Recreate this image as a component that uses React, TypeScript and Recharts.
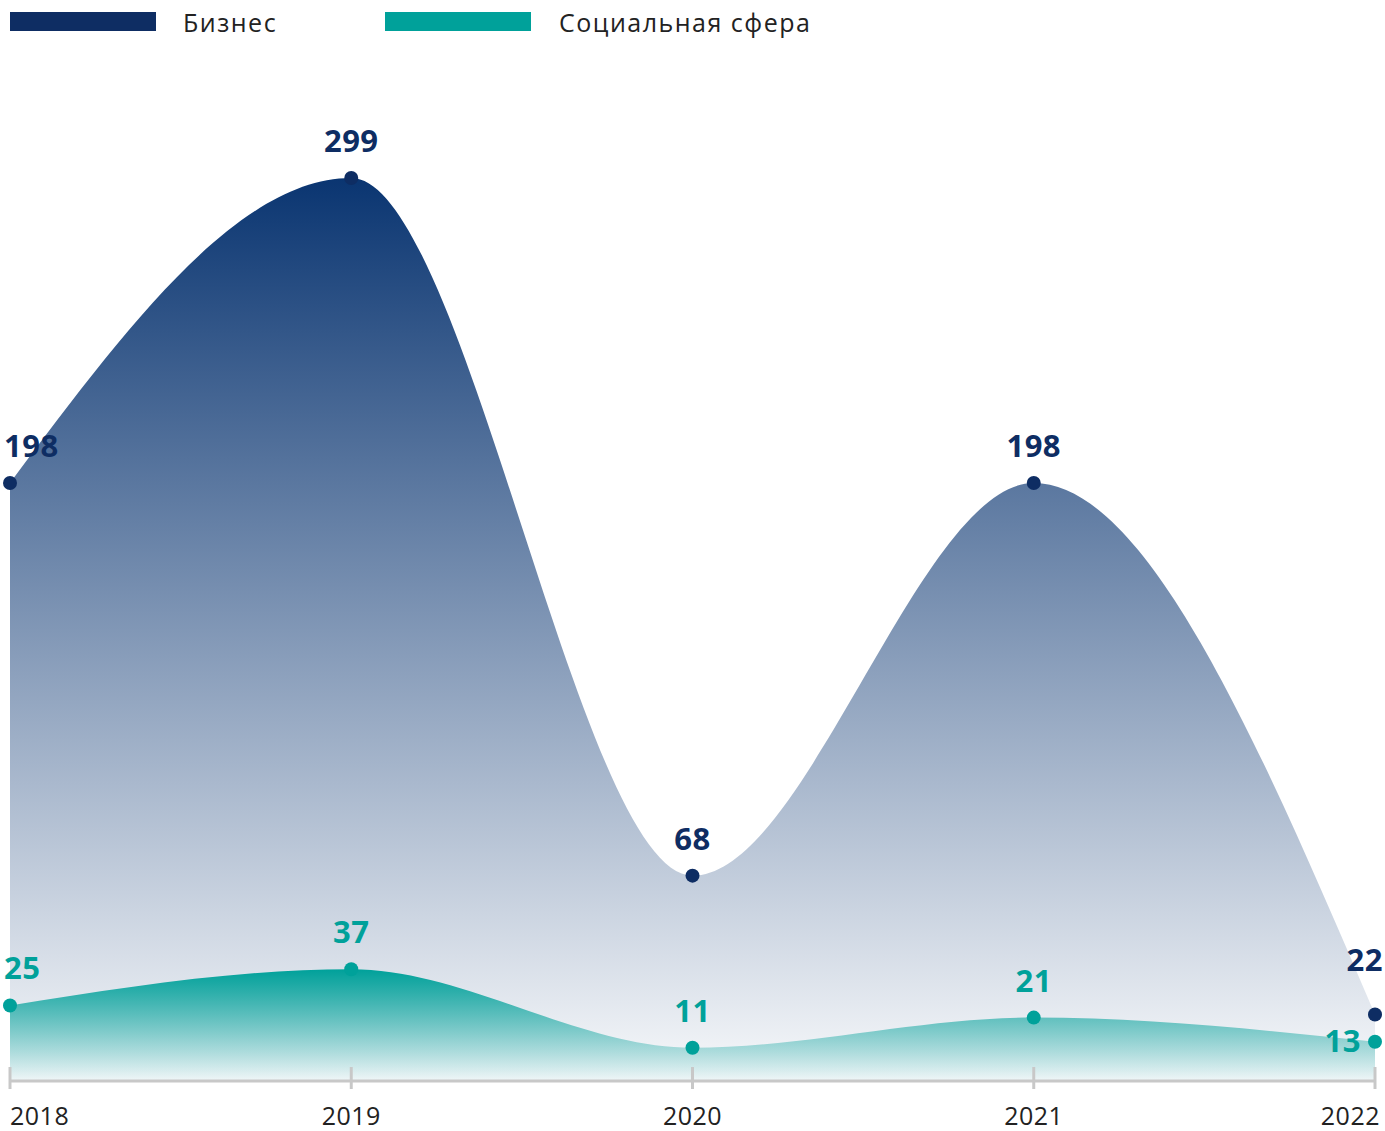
import { AreaChart, Area, XAxis, YAxis } from "recharts";

const years = ["2018", "2019", "2020", "2021", "2022"];
const business = [198, 299, 68, 198, 22];
const social = [25, 37, 11, 21, 13];

const NAVY = "#0e2d63";
const TEAL = "#00a19a";

const data = years.map((year, i) => ({
  year,
  business: business[i],
  social: social[i],
}));

const FONT = "'Open Sans', sans-serif";

function YearTick(props: any) {
  const { x, y, payload, index } = props;
  const last = index === years.length - 1;
  const anchor = index === 0 ? "start" : last ? "end" : "middle";
  return (
    <g>
      <line x1={x} y1={y - 22} x2={x} y2={y} stroke="#c8c8c8" strokeWidth={3} />
      <text
        x={last ? x + 5 : x}
        y={y + 36}
        textAnchor={anchor}
        fontFamily={FONT}
        fontSize={25}
        letterSpacing={0.5}
        fill="#222"
      >
        {payload.value}
      </text>
    </g>
  );
}

// lastSide: "up" puts the 2022 label above its dot (lifted), "left" beside it
function makeLabel(color: string, lastSide: "up" | "left") {
  return (props: any) => {
    const { x, y, value, index } = props;
    const last = index === years.length - 1;
    let tx = x;
    let ty = y - 26;
    let anchor = "middle";
    if (index === 0) {
      tx = x - 6;
      anchor = "start";
    } else if (last && lastSide === "up") {
      tx = x + 8;
      ty = y - 44;
      anchor = "end";
    } else if (last) {
      tx = x - 14;
      ty = y + 10;
      anchor = "end";
    }
    return (
      <text
        x={tx}
        y={ty}
        textAnchor={anchor}
        fontFamily={FONT}
        fontWeight={700}
        fontSize={31}
        letterSpacing={0.5}
        fill={color}
      >
        {value}
      </text>
    );
  };
}

function TopLegend() {
  const items = [
    { name: "Бизнес", color: NAVY, x: 10, tx: 183 },
    { name: "Социальная сфера", color: TEAL, x: 385, tx: 559 },
  ];
  return (
    <svg
      width={900}
      height={50}
      style={{ position: "absolute", left: 0, top: 0 }}
    >
      {items.map((it) => (
        <g key={it.name}>
          <rect x={it.x} y={12} width={146} height={19} fill={it.color} />
          <text
            x={it.tx}
            y={32}
            fontFamily={FONT}
            fontSize={25}
            letterSpacing={1.5}
            fill="#222"
          >
            {it.name}
          </text>
        </g>
      ))}
    </svg>
  );
}

export default function App() {
  return (
    <div style={{ position: "absolute", left: 0, top: 0, width: 1385, height: 1131 }}>
      <AreaChart
        width={1385}
        height={1131}
        data={data}
        margin={{ top: 178, right: 10, bottom: 0, left: 10 }}
      >
        <defs>
          <linearGradient id="gBiz" x1="0" y1="0" x2="0" y2="1">
            <stop offset="0%" stopColor="#0a3571" stopOpacity={1} />
            <stop offset="100%" stopColor="#0a3571" stopOpacity={0.03} />
          </linearGradient>
          <linearGradient id="gSoc" x1="0" y1="0" x2="0" y2="1">
            <stop offset="0%" stopColor="#00a19a" stopOpacity={1} />
            <stop offset="100%" stopColor="#00a19a" stopOpacity={0.03} />
          </linearGradient>
        </defs>
        <XAxis
          dataKey="year"
          height={50}
          padding={{ left: 0, right: 0 }}
          axisLine={{ stroke: "#c8c8c8", strokeWidth: 3 }}
          tickLine={false}
          tick={<YearTick />}
          interval={0}
        />
        <YAxis hide domain={[0, 299]} />
        <Area
          type="monotone"
          dataKey="business"
          stroke="none"
          fill="url(#gBiz)"
          fillOpacity={1}
          isAnimationActive={false}
          dot={{ r: 7, fill: NAVY, stroke: "none", fillOpacity: 1 }}
          activeDot={false}
          label={makeLabel(NAVY, "up")}
        />
        <Area
          type="monotone"
          dataKey="social"
          stroke="none"
          fill="url(#gSoc)"
          fillOpacity={1}
          isAnimationActive={false}
          dot={{ r: 7, fill: TEAL, stroke: "none", fillOpacity: 1 }}
          activeDot={false}
          label={makeLabel(TEAL, "left")}
        />
      </AreaChart>
      <TopLegend />
    </div>
  );
}
